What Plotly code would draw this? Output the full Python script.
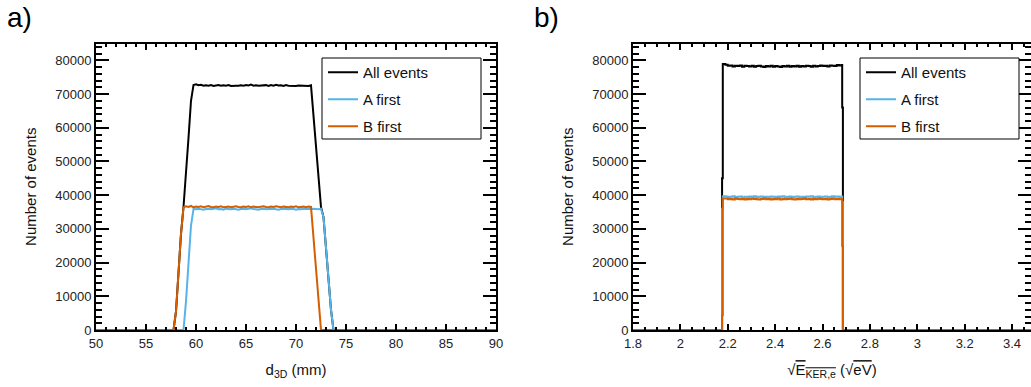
import plotly.graph_objects as go

# ---------------- Panel a: d3D (mm) ----------------
d3d_x = [50.0] + [57.5 + 0.25 * k for k in range(67)] + [90.0]

all_a = ([0, 0, 0, 5500, 17000, 28500, 36500, 45500, 57000, 68000, 72700] +
         [72900, 72600, 72750, 72450, 72600, 72500, 72650, 72400, 72550, 72700,
          72450, 72600, 72500, 72650, 72400, 72550, 72500, 72450, 72600, 72500,
          72700, 72550, 72800, 72500, 72600, 72450, 72550, 72500, 72650, 72400,
          72700, 72500, 72750, 72550, 72600, 72400, 72650, 72500, 72450, 72600,
          72400, 72550, 72500, 72450, 72600, 72400, 72600] +
         [63500, 54500, 45000, 36500, 33500, 24500, 15500, 6000, 0, 0, 0])

a_first_a = ([0, 0, 0, 0, 0, 0, 0, 8500, 20000, 31000, 35900] +
             [35800, 36000, 35900, 35700, 35900, 36000, 35800, 35900, 36100, 35800,
              35900, 35700, 36000, 35900, 35800, 36000, 35900, 35700, 35900, 36000,
              35800, 35900, 36100, 35900, 35800, 35700, 35900, 36000, 35800, 35900,
              35900, 36000, 35800, 35700, 35900, 36000, 35900, 35800, 36000, 35900,
              35700, 35900, 35800, 36000, 35900, 35800, 35900, 36000, 35900, 35800,
              36000] +
             [33500, 24500, 15500, 6000, 0, 0, 0])

b_first_a = ([0, 0, 0, 5500, 17000, 28500] +
             [36400, 36700, 36500, 36800, 36400, 36600, 36500, 36700, 36400, 36600,
              36800, 36500, 36400, 36600, 36500, 36700, 36400, 36500, 36600, 36400,
              36500, 36700, 36500, 36400, 36600, 36500, 36700, 36400, 36600, 36500,
              36400, 36600, 36700, 36500, 36400, 36600, 36500, 36700, 36500, 36400,
              36600, 36500, 36400, 36600, 36500, 36700, 36400, 36500, 36600, 36400,
              36600, 36500] +
             [27500, 18500, 9000, 0, 0, 0, 0, 0, 0, 0, 0, 0])

# ---------------- Panel b: sqrt(E_KER,e) (sqrt(eV)) ----------------
ek_x = [1.8, 2.176, 2.179] + [2.19 + 0.01 * k for k in range(50)] + [2.683, 2.686, 3.5]

all_b = ([0, 45000, 78900] +
         [78700, 78400, 78500, 78200, 78400, 78300, 78500, 78100, 78400, 78300,
          78200, 78400, 78100, 78300, 78400, 78200, 78000, 78300, 78200, 78400,
          78100, 78300, 78200, 78000, 78300, 78200, 78400, 78100, 78300, 78200,
          78400, 78100, 78300, 78200, 78400, 78300, 78100, 78400, 78200, 78300,
          78500, 78300, 78400, 78200, 78500, 78400, 78300, 78600, 78500, 78600] +
         [66000, 0, 0])

a_first_b = ([0, 36000, 39700] +
             [39600, 39400, 39500, 39700, 39400, 39500, 39600, 39300, 39500, 39400,
              39600, 39500, 39700, 39400, 39500, 39600, 39400, 39500, 39300, 39600,
              39500, 39400, 39600, 39500, 39700, 39400, 39500, 39600, 39400, 39500,
              39600, 39300, 39500, 39400, 39600, 39500, 39700, 39400, 39500, 39600,
              39400, 39500, 39600, 39400, 39500, 39700, 39500, 39600, 39400, 39600] +
             [38000, 0, 0])

b_first_b = ([0, 4400, 39000] +
             [39000, 38800, 38900, 38700, 39000, 38900, 38800, 38900, 38700, 38900,
              38800, 39000, 38900, 38800, 38700, 38900, 39000, 38800, 38900, 38700,
              38900, 38800, 39000, 38700, 38900, 38800, 38900, 39000, 38800, 38700,
              38900, 38800, 38900, 39000, 38800, 38900, 38700, 38900, 38800, 39000,
              38900, 38800, 38900, 38700, 38900, 39000, 38800, 38900, 38800, 38900] +
             [25000, 0, 0])

series_names = ["All events", "A first", "B first"]
colors = ["#000000", "#56B4E9", "#D55E00"]

FONT = "Liberation Sans, Arial, sans-serif"
W, H = 1031, 387

fig = go.Figure()
for name, col, ys in zip(series_names, colors, [all_a, a_first_a, b_first_a]):
    fig.add_trace(go.Scatter(x=d3d_x, y=ys, mode="lines", name=name,
                             line=dict(color=col, width=2), xaxis="x", yaxis="y",
                             legend="legend", legendgroup="a" + name))
for name, col, ys in zip(series_names, colors, [all_b, a_first_b, b_first_b]):
    fig.add_trace(go.Scatter(x=ek_x, y=ys, mode="lines", line_shape="hv", name=name,
                             line=dict(color=col, width=2), xaxis="x2", yaxis="y2",
                             legend="legend2", legendgroup="b" + name))

ydom = [1 - 330 / H, 1 - 43.5 / H]

common = dict(showline=True, linecolor="black", linewidth=2, mirror="ticks",
              ticks="inside", tickcolor="black", tickwidth=1.5, showgrid=False,
              zeroline=False, automargin=False,
              tickfont=dict(size=13, color="#222", family=FONT))

xa = dict(common, domain=[96 / W, 496 / W], range=[50, 90], dtick=5, tick0=50, ticklen=6,
          minor=dict(ticks="inside", dtick=1, ticklen=3, tickwidth=1.5, tickcolor="black", showgrid=False),
          title=dict(text="d<sub>3D</sub> (mm)", font=dict(size=15, family=FONT, color="#111")),
          anchor="y")
xb = dict(common, domain=[633 / W, 1.0], range=[1.8, 3.48], dtick=0.2, tick0=1.8, ticklen=6,
          minor=dict(ticks="inside", dtick=0.05, ticklen=3, tickwidth=1.5, tickcolor="black", showgrid=False),
          title=dict(text="√<span style='text-decoration:overline'>E<sub>KER,e</sub></span> (√<span style='text-decoration:overline'>eV</span>)",
                     font=dict(size=15, family=FONT, color="#111")),
          anchor="y2")
yax = dict(common, domain=ydom, range=[0, 85000], dtick=10000, tick0=0, ticklen=13, tickformat="d",
           minor=dict(ticks="inside", dtick=2000, ticklen=6, tickwidth=1.5, tickcolor="black", showgrid=False),
           title=dict(text="Number of events", font=dict(size=15, family=FONT, color="#111")))

legend_common = dict(bgcolor="rgba(0,0,0,0)", borderwidth=0, tracegroupgap=4.5,
                     font=dict(size=15, family=FONT, color="#111"), xanchor="left", yanchor="top",
                     xref="paper", yref="paper", itemclick=False)

# legend frames (white boxes with black border) behind the legend entries
frames = []
for x0 in (322, 860):
    frames.append(dict(type="rect", xref="paper", yref="paper",
                       x0=x0 / W, x1=(x0 + 159) / W, y0=1 - 139 / H, y1=1 - 58 / H,
                       line=dict(color="black", width=1), fillcolor="white", layer="above"))

fig.update_layout(
    width=W, height=H, margin=dict(l=0, r=0, t=0, b=0, autoexpand=False),
    paper_bgcolor="white", plot_bgcolor="white", font=dict(family=FONT),
    xaxis=xa, yaxis=dict(yax, anchor="x"),
    xaxis2=xb, yaxis2=dict(yax, anchor="x2"),
    showlegend=True,
    legend=dict(legend_common, x=323 / W, y=1 - 56 / H),
    legend2=dict(legend_common, x=861 / W, y=1 - 56 / H),
    shapes=frames,
    annotations=[
        dict(text="a)", x=5 / W, y=1 - 18 / H, xref="paper", yref="paper", xanchor="left",
             yanchor="middle", showarrow=False, font=dict(size=28, family=FONT, color="black")),
        dict(text="b)", x=532 / W, y=1 - 18 / H, xref="paper", yref="paper", xanchor="left",
             yanchor="middle", showarrow=False, font=dict(size=28, family=FONT, color="black")),
    ],
)

fig.write_html("out.html", config={"displayModeBar": False},
               post_script="document.body.style.margin='0';")
